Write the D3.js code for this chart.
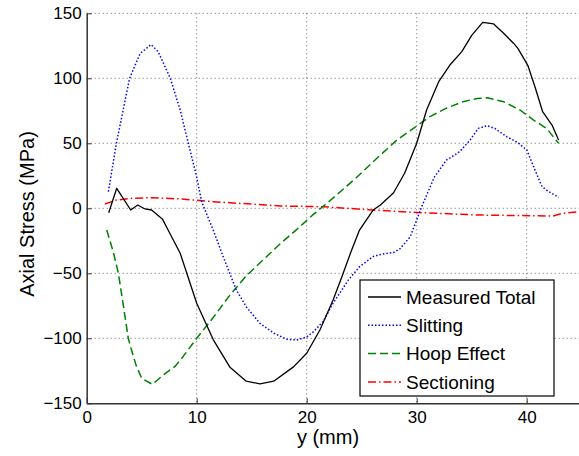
<!DOCTYPE html>
<html>
<head>
<meta charset="utf-8">
<script src="https://cdn.jsdelivr.net/npm/d3@7"></script>
<style>
  body { margin: 0; background: #fff; }
  text { font-family: "Liberation Sans", Arial, sans-serif; }
</style>
</head>
<body>
<div id="chart"></div>
<script>
// data: position y (mm) and axial stress (MPa)
const measuredX = [2.0, 2.73, 4.0, 4.64, 5.3, 5.9, 6.9, 7.4, 8.5, 10.0, 11.5, 13.0, 14.5, 15.75, 17.0, 18.8, 20.0, 21.2, 22.4, 23.2, 24.0, 24.8, 26.05, 26.7, 27.9, 28.9, 30.0, 30.9, 32.0, 33.0, 34.1, 35.0, 36.0, 37.0, 37.9, 38.8, 39.2, 40.1, 40.75, 41.45, 42.3, 42.9];
const measuredY = [-3.4, 15.4, -1.3, 2.5, -0.5, -1.3, -8.5, -16.7, -34.6, -73, -101, -122, -133, -135, -133, -122, -111.5, -93.6, -70.5, -52.6, -34, -16.7, -1.3, 2.5, 12, 27, 50, 75.6, 97.4, 110, 120.5, 133, 143, 141.8, 134.6, 127, 123, 110, 93.5, 74.3, 64, 52.5];

const slittingX = [1.97, 2.7, 3.9, 4.85, 5.85, 6.5, 7.6, 8.5, 9.24, 10.0, 10.45, 11.5, 12.4, 13.6, 14.5, 15.75, 17.0, 18.2, 19.1, 20.0, 20.6, 21.5, 22.4, 23.8, 24.8, 26.05, 27.0, 27.9, 28.5, 29.4, 30.0, 30.45, 31.0, 31.6, 32.7, 33.9, 34.85, 35.6, 36.4, 37.1, 38.2, 39.1, 40.0, 40.75, 41.4, 42.0, 42.9];
const slittingY = [12.8, 50, 100, 119, 126, 120.5, 100, 75.6, 50, 24, 5, -16.7, -37, -62.8, -75.7, -88.5, -96, -100.8, -101.3, -99, -95, -87, -73, -55, -45, -37, -35, -34, -31, -22, -9, 1.2, 12, 24, 37, 43.5, 52.5, 61.5, 63.5, 61.5, 55, 51, 45, 29.5, 16.6, 12.8, 8.5];

const hoopX = [1.82, 2.4, 2.88, 3.3, 3.78, 4.03, 4.5, 5.0, 5.97, 7.0, 8.0, 8.5, 10.0, 11.5, 13.0, 14.5, 16.0, 17.5, 19.0, 20.5, 22.0, 23.5, 24.5, 26.7, 28.2, 29.7, 31.2, 32.7, 34.2, 35.5, 36.4, 37.9, 39.4, 40.6, 41.8, 42.9];
const hoopY = [-16.7, -33, -50, -73, -100, -107.7, -121, -130.8, -135.4, -128, -121.8, -117, -100, -84, -67, -52, -40, -28, -17, -5.5, 5, 16, 23.5, 41, 52.5, 61.5, 70.5, 77, 82, 84.5, 85, 82, 75.6, 68, 61.5, 50];

const sectionX = [1.66, 2.7, 4.2, 5.9, 8.5, 11.5, 17.6, 21.5, 26.0, 29.7, 35.75, 42.4, 43.3, 44.8];
const sectionY = [3.3, 6.4, 7.7, 8.2, 7.2, 5.1, 1.8, 1.2, -1.3, -3.1, -5.2, -5.9, -3.8, -2.6];

const seriesNames = ["Measured Total", "Slitting", "Hoop Effect", "Sectioning"];
const xTicks = [0, 10, 20, 30, 40];
const yTicks = [-150, -100, -50, 0, 50, 100, 150];

// set the dimensions and margins of the graph
const W = 579, H = 456;
const margin = { top: 13.3, left: 86.7 },
    width = 495,
    height = 390;

const svg = d3.select("#chart")
    .append("svg")
    .attr("width", W)
    .attr("height", H);

const g = svg.append("g")
    .attr("transform", "translate(" + margin.left + "," + margin.top + ")");

const x = d3.scaleLinear().domain([0, 45]).range([0, width]);
const y = d3.scaleLinear().domain([-150, 150]).range([height, 0]);

// dotted grid
g.append("g")
    .selectAll("line")
    .data(xTicks.filter(d => d > 0))
    .enter().append("line")
    .attr("x1", d => x(d)).attr("x2", d => x(d))
    .attr("y1", 0).attr("y2", height)
    .style("stroke", "#666")
    .style("stroke-width", 1)
    .style("stroke-dasharray", "1,3");

g.append("g")
    .selectAll("line")
    .data(yTicks.filter(d => d > -150))
    .enter().append("line")
    .attr("x1", 0).attr("x2", width)
    .attr("y1", d => y(d)).attr("y2", d => y(d))
    .style("stroke", "#666")
    .style("stroke-width", 1)
    .style("stroke-dasharray", "1,3");

// axes, MATLAB style with inward ticks
const xAxis = g.append("g")
    .attr("transform", "translate(0," + height + ")")
    .call(d3.axisBottom(x).tickValues(xTicks).tickSizeInner(-5).tickSizeOuter(0).tickPadding(8));
const yAxis = g.append("g")
    .call(d3.axisLeft(y).tickValues(yTicks).tickSizeInner(-5).tickSizeOuter(0).tickPadding(5)
        .tickFormat(d => d < 0 ? "\u2212" + Math.abs(d) : d));

[xAxis, yAxis].forEach(a => {
    a.select(".domain").style("stroke", "#333").style("stroke-width", 1.5);
    a.selectAll(".tick line").style("stroke", "#333").style("stroke-width", 1);
    a.selectAll(".tick text")
        .style("font-size", "17px")
        .style("font-family", "'Liberation Sans', Arial, sans-serif")
        .style("fill", "#000");
});

// lines
const styles = [
    { color: "#000000", dash: null, w: 1.3 },
    { color: "#0000ff", dash: "1.5,2", w: 1.5 },
    { color: "#008000", dash: "8,4", w: 1.5 },
    { color: "#ff0000", dash: "8,3,1.5,3", w: 1.5 }
];
const seriesData = [
    measuredX.map((d, i) => [d, measuredY[i]]),
    slittingX.map((d, i) => [d, slittingY[i]]),
    hoopX.map((d, i) => [d, hoopY[i]]),
    sectionX.map((d, i) => [d, sectionY[i]])
];

const line = d3.line()
    .x(d => x(d[0]))
    .y(d => y(d[1]));

// draw sectioning first so the others sit above it
[3, 2, 1, 0].forEach(i => {
    g.append("path")
        .datum(seriesData[i])
        .attr("d", line)
        .style("fill", "none")
        .style("stroke", styles[i].color)
        .style("stroke-width", styles[i].w)
        .style("stroke-dasharray", styles[i].dash)
        .style("stroke-linejoin", "round");
});

// axis labels
svg.append("text")
    .attr("x", 328)
    .attr("y", 444)
    .attr("text-anchor", "middle")
    .style("font-size", "20px")
    .text("y (mm)");

svg.append("text")
    .attr("transform", "translate(34,214) rotate(-90)")
    .attr("text-anchor", "middle")
    .style("font-size", "20px")
    .text("Axial Stress (MPa)");

// legend
const legend = svg.append("g").attr("transform", "translate(360,280)");
legend.append("rect")
    .attr("width", 194)
    .attr("height", 116)
    .style("fill", "#fff")
    .style("stroke", "#000")
    .style("stroke-width", 1.2);

const item = legend.selectAll("g.item")
    .data(seriesNames)
    .enter().append("g")
    .attr("class", "item")
    .attr("transform", (d, i) => "translate(0," + (17 + i * 28.3) + ")");

item.append("line")
    .attr("x1", 8).attr("x2", 41)
    .style("stroke", (d, i) => styles[i].color)
    .style("stroke-width", (d, i) => styles[i].w)
    .style("stroke-dasharray", (d, i) => styles[i].dash);

item.append("text")
    .attr("x", 46)
    .attr("dy", "0.35em")
    .style("font-size", "19px")
    .text(d => d);
</script>
</body>
</html>
